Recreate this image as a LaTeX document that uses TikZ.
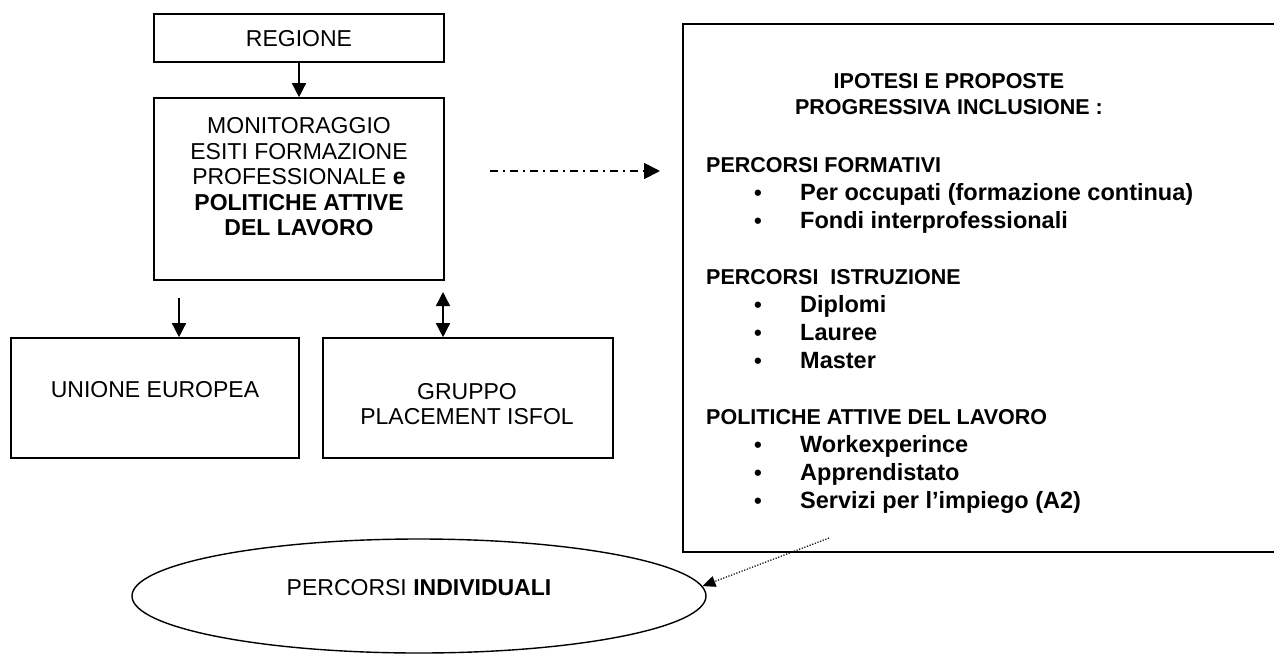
\documentclass[tikz,border=0pt]{standalone}
\usepackage{fontspec}
\setmainfont{Liberation Sans}
\usetikzlibrary{arrows.meta,shapes.geometric}
\tikzset{
  box/.style={draw, line width=1.6pt, rectangle, inner sep=0pt},
  arr/.style={line width=1.4pt, -{Triangle[length=14pt,width=14pt]}},
  dblarr/.style={line width=1.4pt, {Triangle[length=14pt,width=14pt]}-{Triangle[length=14pt,width=14pt]}},
  dashdot/.style={line width=1.8pt, dash pattern=on 8pt off 5pt on 2pt off 5pt, -{Triangle[length=16pt,width=16pt]}},
  dotarr/.style={line width=1.2pt, dash pattern=on 1.2pt off 1.6pt, -{Triangle[length=13pt,width=11pt]}},
  lbl/.style={inner sep=0pt, font=\fontsize{23}{25.5}\selectfont, align=center},
  rh/.style={inner sep=0pt, anchor=base west, font=\fontsize{21.5}{26}\selectfont\bfseries},
  rt/.style={inner sep=0pt, anchor=base west, font=\fontsize{23.5}{26}\selectfont\bfseries},
  bul/.style={inner sep=0pt, anchor=base, font=\fontsize{22}{26}\selectfont\bfseries}
}
\begin{document}
\begin{tikzpicture}[x=1pt,y=-1pt]
\useasboundingbox (0,0) rectangle (1274,654);
\fill[white] (0,0) rectangle (1274,654);

% left column
\node[box, minimum width=290pt, minimum height=48pt] (reg) at (299,38) {};
\node[lbl] (regt) at (299,39) {REGIONE};
\node[box, minimum width=290pt, minimum height=182pt] (mon) at (299,189) {};
\node[lbl] (mont) at (299,177) {MONITORAGGIO\\ESITI FORMAZIONE\\PROFESSIONALE \textbf{e}\\\textbf{POLITICHE ATTIVE}\\\textbf{DEL LAVORO}};
\node[box, minimum width=288pt, minimum height=120pt] (ue) at (155,398) {};
\node[lbl] (uet) at (155,390) {UNIONE EUROPEA};
\node[box, minimum width=290pt, minimum height=120pt] (grp) at (468,398) {};
\node[lbl] (grpt) at (467,404) {GRUPPO\\PLACEMENT ISFOL};

% right box
\node[box, minimum width=597pt, minimum height=528pt] (ipo) at (981.5,288) {};
\node[inner sep=0pt, align=center, font=\fontsize{21.5}{26.5}\selectfont\bfseries] (ipot) at (949,94) {IPOTESI E PROPOSTE\\PROGRESSIVA INCLUSIONE :};

\node[rh] (h1) at (706,172) {PERCORSI FORMATIVI};
\node[bul] (b1) at (758,200) {\textbullet};
\node[rt] (t1) at (800,200) {Per occupati (formazione continua)};
\node[bul] (b2) at (758,228) {\textbullet};
\node[rt] (t2) at (800,228) {Fondi interprofessionali};

\node[rh] (h2) at (706,284) {PERCORSI\ \ ISTRUZIONE};
\node[bul] (b3) at (758,312) {\textbullet};
\node[rt] (t3) at (800,312) {Diplomi};
\node[bul] (b4) at (758,340) {\textbullet};
\node[rt] (t4) at (800,340) {Lauree};
\node[bul] (b5) at (758,368) {\textbullet};
\node[rt] (t5) at (800,368) {Master};

\node[rh] (h3) at (706,424) {POLITICHE ATTIVE DEL LAVORO};
\node[bul] (b6) at (758,452) {\textbullet};
\node[rt] (t6) at (800,452) {Workexperince};
\node[bul] (b7) at (758,480) {\textbullet};
\node[rt] (t7) at (800,480) {Apprendistato};
\node[bul] (b8) at (758,508) {\textbullet};
\node[rt] (t8) at (800,508) {Servizi per l’impiego (A2)};

% ellipse
\node[draw, line width=1.4pt, ellipse, minimum width=574pt, minimum height=114pt, inner sep=0pt] (ell) at (419,596) {};
\node[lbl] (ellt) at (419,588) {PERCORSI \textbf{INDIVIDUALI}};

% connectors
\draw[arr] (reg.south) -- (mon.north);
\coordinate (ueA) at (179,298);
\draw[arr] (ueA) -- (ueA |- ue.north);
\coordinate (grpA) at (443,292);
\draw[dblarr] (grpA) -- (grpA |- grp.north);
\coordinate (d1) at (490,171);
\coordinate (d2) at (660,171);
\draw[dashdot] (d1) -- (d2);
\coordinate (p1) at (829,538);
\draw[dotarr] (p1) -- (ell.2);
\end{tikzpicture}
\end{document}
